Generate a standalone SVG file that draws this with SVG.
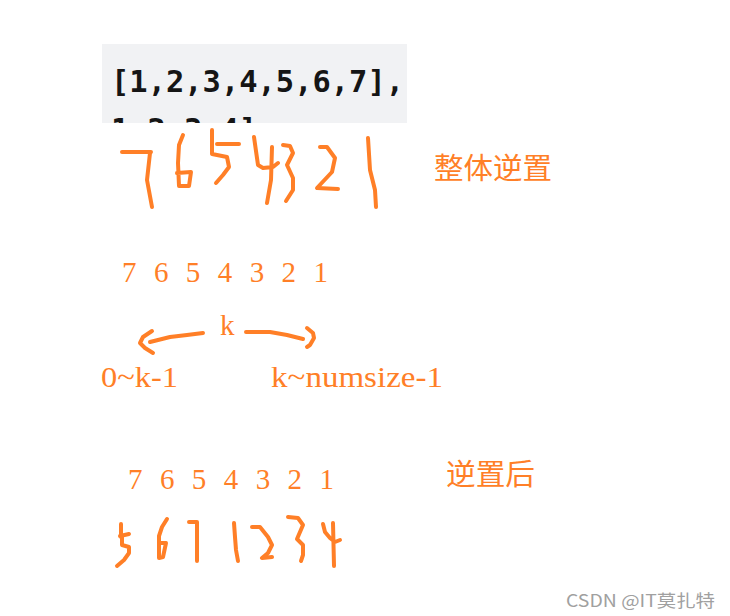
<svg xmlns="http://www.w3.org/2000/svg" width="730" height="616" viewBox="0 0 730 616">
<style>
.hw{fill:none;stroke:#ff7f27;stroke-width:4;stroke-linecap:round;stroke-linejoin:round}
.num{font-family:"Liberation Serif","Noto Serif CJK SC",serif;font-size:29px;fill:#ff7f27}
.cjk{font-family:"Noto Sans CJK SC",sans-serif;font-size:29px;fill:#ff7f27}
.code{font-family:"DejaVu Sans Mono","Liberation Mono",monospace;font-size:30px;font-weight:bold;fill:#151515}
</style>
<defs>
<clipPath id="box"><rect x="102" y="44" width="305" height="79"/></clipPath>
</defs>
<rect width="730" height="616" fill="#ffffff"/>
<g id="code">
<rect x="102" y="44" width="305" height="79" fill="#f1f2f4"/>
<g clip-path="url(#box)">
<text class="code" x="111" y="92" textLength="293" lengthAdjust="spacingAndGlyphs">[1,2,3,4,5,6,7],</text>
<text class="code" x="111" y="140" textLength="146" lengthAdjust="spacingAndGlyphs">1,2,3,4]</text>
</g>
</g>
<g id="hand-reversed">
<path class="hw" d="M122,152 L151,152 M150,153 L147,180 L152,207"/>
<path class="hw" d="M183,135 L179,145 L178,163 L179,186 L189,186 L191,172 L177,173"/>
<path class="hw" d="M212,130 L212,154 L227,157 L229,167 L223,175 L216,183 M217,144 L239,144"/>
<path class="hw" d="M254,137 L258,165 L263,168 L273,167 L278,163 M272,147 L271,180 L267,203"/>
<path class="hw" d="M283,145 L290,146 L293,153 L287,165 L293,178 L293,190 L286,201"/>
<path class="hw" d="M320,147 L327,147 L335,158 L332,172 L317,188 L338,189"/>
<path class="hw" d="M368,138 L370,170 L375,190 L376,207"/>
</g>
<g id="label-whole">
<text class="cjk" x="434" y="179" textLength="118" lengthAdjust="spacingAndGlyphs">整体逆置</text>
</g>
<g id="row1">
<text class="num" x="122" y="282" textLength="206" lengthAdjust="spacing" xml:space="preserve">7 6 5 4 3 2 1</text>
</g>
<g id="split">
<text class="num" x="220" y="335">k</text>
<text class="num" x="101" y="387" textLength="77" lengthAdjust="spacingAndGlyphs">0~k-1</text>
<text class="num" x="271" y="387" textLength="172" lengthAdjust="spacingAndGlyphs">k~numsize-1</text>
</g>
<g id="connectors">
<path class="hw" d="M203,333 L187,335 L170,337 L150,342"/>
<path class="hw" d="M152,331 L143,337 L140,343 L145,348 L153,353"/>
<path class="hw" d="M246,332 L270,332 L287,335 L303,339"/>
<path class="hw" d="M307,328 L313,333 L314,338 L310,345 L307,347"/>
</g>
<g id="row2">
<text class="num" x="128" y="489" textLength="206" lengthAdjust="spacing" xml:space="preserve">7 6 5 4 3 2 1</text>
</g>
<g id="label-after">
<text class="cjk" x="446" y="485" textLength="89" lengthAdjust="spacingAndGlyphs">逆置后</text>
</g>
<g id="hand-result">
<path class="hw" d="M121,524 L121,537 M120,536 L129,534 M122,537 L122,545 L129,547 L129,553 L124,560 L117,566"/>
<path class="hw" d="M167,519 L162,527 L159,536 L159,558 L163,557 L166,543 L160,543"/>
<path class="hw" d="M189,522 L197,522 L197,533 L197,561"/>
<path class="hw" d="M234,523 L235,537 L236,550 L238,561"/>
<path class="hw" d="M252,527 L260,527 L268,537 L272,545 L268,553 L262,558 L272,557"/>
<path class="hw" d="M288,517 L298,518 L303,525 L297,539 L303,545 L303,555 L301,561"/>
<path class="hw" d="M323,524 L325,532 L330,538 L335,542 L340,540 M333,523 L334,566"/>
</g>
<g id="watermark">
<text x="566" y="607" font-family="'Noto Sans CJK SC',sans-serif" font-size="17" fill="#a0a0a0" textLength="149" lengthAdjust="spacingAndGlyphs">CSDN @IT莫扎特</text>
</g>
</svg>
